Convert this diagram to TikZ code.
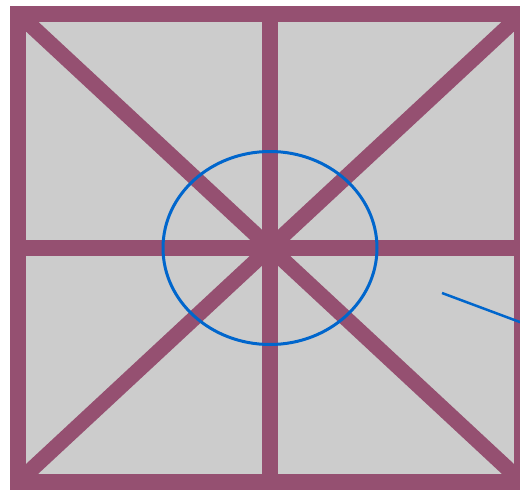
\documentclass[tikz,border=0pt]{standalone}
\definecolor{frame}{HTML}{955071}
\definecolor{panel}{HTML}{CCCCCC}
\definecolor{ring}{HTML}{0066CC}
\begin{document}
\begin{tikzpicture}[x=1pt,y=-1pt,
  bar/.style={draw=frame,line width=15.5pt},
  ringline/.style={draw=ring,line width=3pt}]
\useasboundingbox (0,0) rectangle (520,490);
\clip (0,0) rectangle (520,490);
\coordinate (tl) at (18,13.5);
\coordinate (tr) at (522,13.5);
\coordinate (bl) at (18,482);
\coordinate (br) at (522,482);
\coordinate (c) at (270,248);
\coordinate (tm) at (270,13.5);
\coordinate (bm) at (270,482);
\coordinate (lm) at (18,248);
\coordinate (rm) at (522,248);
\fill[panel] (tl) rectangle (br);
\begin{scope}
\clip (tl) rectangle (br);
\draw[bar] (tl) -- (br);
\draw[bar] (tr) -- (bl);
\draw[bar] (tm) -- (bm);
\draw[bar] (lm) -- (rm);
\end{scope}
\draw[bar,line width=16pt] (tl) rectangle (br);
\draw[ringline] (c) ellipse [x radius=107, y radius=96.5];
\coordinate (p1) at (442,293);
\coordinate (p2) at (560,337);
\draw[ringline,line width=2.5pt] (p1) -- (p2);
\end{tikzpicture}
\end{document}
